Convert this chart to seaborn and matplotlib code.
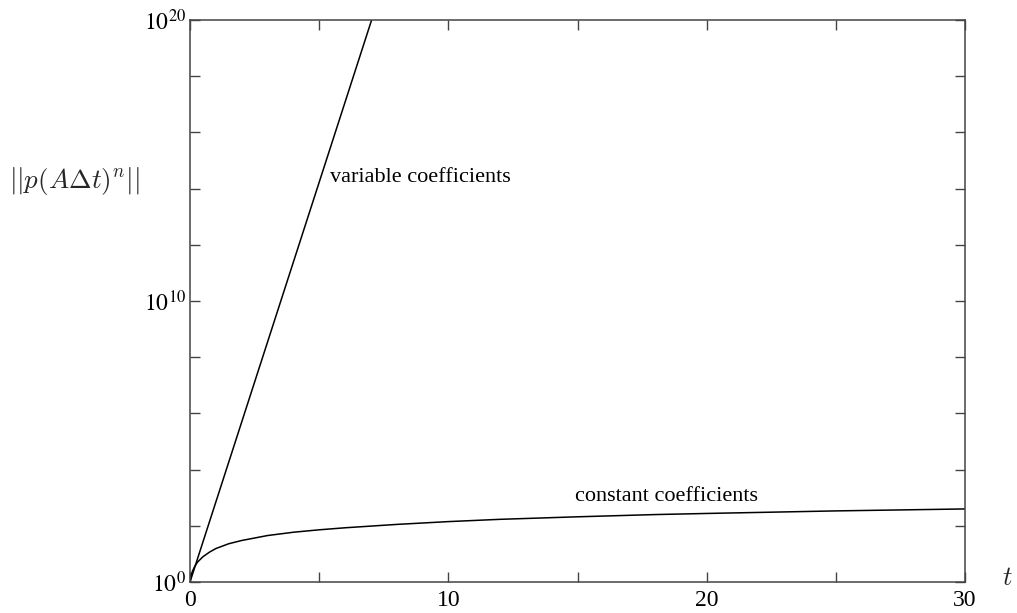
import numpy as np
import pandas as pd
import matplotlib
matplotlib.use("Agg")
import matplotlib.pyplot as plt
import seaborn as sns
from matplotlib.ticker import FixedLocator, FixedFormatter, NullLocator

# ---- data ----
t_const = [0, 0.02, 0.05, 0.1, 0.2, 0.3, 0.5, 0.75, 1, 1.5, 2, 3, 4, 5, 6, 8,
           10, 12, 15, 18, 20, 25, 30]
y_const = [1, 1.35, 1.8, 2.5, 3.8, 5.2, 7.9, 11.5, 15.5, 23, 30, 45, 59, 72,
           85, 112, 141, 170, 209, 251, 275, 339, 398]
t_var = [0, 7.03]
y_var = [1, 1e20]

x_ticks = [0, 5, 10, 15, 20, 25, 30]
x_ticklabels = ["0", "", "10", "", "20", "", "30"]
y_ticks = [1e0, 1e2, 1e4, 1e6, 1e8, 1e10, 1e12, 1e14, 1e16, 1e18, 1e20]
y_ticklabels = [r"$10^{0}$", "", "", "", "", r"$10^{10}$", "", "", "", "", r"$10^{20}$"]

label_var = "variable coefficients"
label_const = "constant coefficients"
ylabel = r"$||p(A\Delta t)^n||$"
xlabel = r"$t$"

sns.set_theme(style="ticks")
plt.rcParams["font.family"] = ["Liberation Serif", "DejaVu Serif"]
plt.rcParams["mathtext.fontset"] = "stix"

fig = plt.figure(figsize=(10.17, 6.13), dpi=100)
ax = fig.add_axes([190 / 1017, 1 - 582 / 613, 775 / 1017, 562 / 613])

df_c = pd.DataFrame({"t": t_const, "y": y_const})
df_v = pd.DataFrame({"t": t_var, "y": y_var})
sns.lineplot(data=df_c, x="t", y="y", ax=ax, color="black", lw=1.1)
sns.lineplot(data=df_v, x="t", y="y", ax=ax, color="black", lw=1.1)

ax.set_yscale("log")
ax.set_xlim(0, 30)
ax.set_ylim(1, 1e20)

ax.xaxis.set_major_locator(FixedLocator(x_ticks))
ax.xaxis.set_major_formatter(FixedFormatter(x_ticklabels))
ax.yaxis.set_major_locator(FixedLocator(y_ticks))
ax.yaxis.set_major_formatter(FixedFormatter(y_ticklabels))
ax.xaxis.set_minor_locator(NullLocator())
ax.yaxis.set_minor_locator(NullLocator())

ax.tick_params(axis="both", which="major", direction="in", length=7, width=1,
               color="#444444", labelsize=17, labelcolor="black",
               top=True, right=True)
ax.tick_params(axis="x", pad=6)
ax.tick_params(axis="y", pad=3)
for sp in ax.spines.values():
    sp.set_color("#444444")
    sp.set_linewidth(1.1)

ax.text(5.42, 10 ** 14.4, label_var, ha="left", va="center", fontsize=16,
        color="black")
ax.text(14.9, 10 ** 3.06, label_const, ha="left", va="center", fontsize=16,
        color="black")

yl = ax.set_ylabel(ylabel, rotation=0, ha="left", va="center", fontsize=19.5)
yl.set_math_fontfamily("cm")
ax.yaxis.set_label_coords(-0.233, 0.713)
xl = ax.set_xlabel(xlabel, ha="center", va="center", fontsize=19)
xl.set_math_fontfamily("cm")
ax.xaxis.set_label_coords(1.054, 0.005)

fig.savefig("out.png", dpi=100)
